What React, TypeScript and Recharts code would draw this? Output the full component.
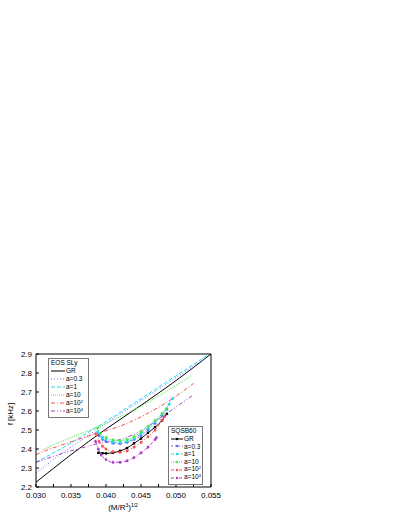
import { LineChart, Line, XAxis, YAxis } from "recharts";

type Pt = [number, number];

// EOS SLy curves (no markers)
const slyGR: Pt[] = [[0.03, 2.225], [0.035, 2.37], [0.04, 2.505], [0.045, 2.63], [0.05, 2.76], [0.055, 2.9]];
const slyA03: Pt[] = [[0.03, 2.275], [0.032, 2.33], [0.034, 2.385], [0.036, 2.435], [0.038, 2.485], [0.04, 2.535], [0.045, 2.655], [0.05, 2.775], [0.0545, 2.885]];
const slyA1: Pt[] = [[0.03, 2.33], [0.032, 2.37], [0.034, 2.41], [0.036, 2.455], [0.038, 2.5], [0.04, 2.545], [0.045, 2.665], [0.05, 2.785], [0.0548, 2.9]];
const slyA10: Pt[] = [[0.031, 2.395], [0.033, 2.43], [0.035, 2.46], [0.037, 2.49], [0.0388, 2.515], [0.042, 2.57], [0.045, 2.625], [0.048, 2.69], [0.0522, 2.785]];
const slyA100: Pt[] = [[0.03, 2.37], [0.032, 2.4], [0.034, 2.425], [0.036, 2.45], [0.0385, 2.48], [0.042, 2.52], [0.045, 2.57], [0.048, 2.63], [0.0525, 2.745]];
const slyA1e4: Pt[] = [[0.03, 2.33], [0.032, 2.355], [0.034, 2.38], [0.036, 2.4], [0.0385, 2.425], [0.042, 2.45], [0.045, 2.495], [0.048, 2.57], [0.0525, 2.685]];

// SQSB60 curves (with markers)
const sqGR: Pt[] = [[0.0389, 2.38], [0.0395, 2.378], [0.04, 2.377], [0.041, 2.38], [0.042, 2.39], [0.043, 2.405], [0.044, 2.43], [0.045, 2.455], [0.046, 2.485], [0.047, 2.515], [0.048, 2.55], [0.0487, 2.585]];
const sqA03: Pt[] = [[0.039, 2.47], [0.0395, 2.45], [0.04, 2.44], [0.041, 2.43], [0.042, 2.428], [0.043, 2.435], [0.044, 2.45], [0.045, 2.47], [0.046, 2.5], [0.047, 2.535], [0.048, 2.575], [0.0487, 2.61]];
const sqA1: Pt[] = [[0.0388, 2.49], [0.0395, 2.46], [0.04, 2.45], [0.041, 2.437], [0.042, 2.435], [0.043, 2.44], [0.044, 2.455], [0.045, 2.48], [0.046, 2.51], [0.047, 2.545], [0.048, 2.585], [0.049, 2.635], [0.0495, 2.665]];
const sqA10: Pt[] = [[0.0388, 2.51], [0.0392, 2.48], [0.04, 2.46], [0.041, 2.448], [0.042, 2.445], [0.043, 2.45], [0.044, 2.465], [0.045, 2.49], [0.046, 2.52], [0.047, 2.55], [0.048, 2.585], [0.0486, 2.61]];
const sqA100: Pt[] = [[0.0385, 2.48], [0.039, 2.44], [0.0395, 2.415], [0.04, 2.4], [0.041, 2.386], [0.042, 2.383], [0.043, 2.39], [0.044, 2.41], [0.045, 2.435], [0.046, 2.465], [0.047, 2.5], [0.048, 2.55], [0.0483, 2.57]];
const sqA1e4: Pt[] = [[0.0385, 2.44], [0.0389, 2.4], [0.0393, 2.37], [0.04, 2.345], [0.041, 2.33], [0.042, 2.33], [0.043, 2.338], [0.044, 2.355], [0.045, 2.38], [0.046, 2.41], [0.047, 2.45], [0.0472, 2.46]];

const xTicks = [0.03, 0.0325, 0.035, 0.0375, 0.04, 0.0425, 0.045, 0.0475, 0.05, 0.0525, 0.055];
const yTicks = [2.2, 2.3, 2.4, 2.5, 2.6, 2.7, 2.8, 2.9];

const toData = (pts: Pt[]) => pts.map(([x, y]) => ({ x, y }));

const C = {
  black: "#000000",
  blue: "#6a6af5",
  cyan: "#22d8f0",
  green: "#4be84b",
  red: "#f55050",
  purple: "#a63cc8",
};

const slySeries = [
  { name: "GR", data: slyGR, color: C.black, dash: undefined as string | undefined },
  { name: "a=0.3", data: slyA03, color: C.blue, dash: "1 2" },
  { name: "a=1", data: slyA1, color: C.cyan, dash: "4 2" },
  { name: "a=10", data: slyA10, color: C.green, dash: "1 1" },
  { name: "a=10", sup: "2", data: slyA100, color: C.red, dash: "4 2 1 2" },
  { name: "a=10", sup: "4", data: slyA1e4, color: C.purple, dash: "4 2 1 2 1 2" },
];

const sqSeries = [
  { name: "GR", data: sqGR, color: C.black, dash: undefined as string | undefined },
  { name: "a=0.3", data: sqA03, color: C.blue, dash: "2 2 1 2" },
  { name: "a=1", data: sqA1, color: C.cyan, dash: "3 2" },
  { name: "a=10", data: sqA10, color: C.green, dash: "1 1" },
  { name: "a=10", sup: "2", data: sqA100, color: C.red, dash: "3 2 1 2" },
  { name: "a=10", sup: "4", data: sqA1e4, color: C.purple, dash: "3 2 1 2" },
];

const font = "'Liberation Sans', Arial, sans-serif";
const tickStyle = { fill: "#000", fontSize: 8, fontFamily: font };

const fmtX = (v: number) => (Math.abs(v * 200 - Math.round(v * 200)) < 1e-6 ? v.toFixed(3) : "");

const squareDot = (color: string) => (p: any) => (
  <rect key={`d${p.index}`} x={p.cx - 1.2} y={p.cy - 1.2} width={2.4} height={2.4} fill={color} />
);

const LegendBox = ({ title, items, left, top, width, rowH, sampleW, markers }: any) => (
  <div
    style={{
      position: "absolute",
      left,
      top,
      width,
      border: "1px solid #777",
      background: "#fff",
      fontFamily: font,
      fontSize: 6.5,
      lineHeight: `${rowH}px`,
      padding: "0 0 2px 2px",
      boxSizing: "border-box",
      whiteSpace: "nowrap",
      overflow: "hidden",
    }}
  >
    <div>{title}</div>
    {items.map((s: any, i: number) => (
      <div key={i} style={{ display: "flex", alignItems: "center", height: rowH }}>
        <svg width={sampleW} height={6} style={{ marginRight: 1, flexShrink: 0 }}>
          <line x1={0} y1={3} x2={sampleW} y2={3} stroke={s.color} strokeWidth={1} strokeDasharray={s.dash} />
          {markers && <circle cx={sampleW / 2} cy={3} r={1.2} fill={s.color} />}
        </svg>
        <span>
          {s.name}
          {s.sup && <span style={{ fontSize: 4, position: "relative", top: -2 }}>{s.sup}</span>}
        </span>
      </div>
    ))}
  </div>
);

export default function App() {
  return (
    <div style={{ position: "absolute", left: 0, top: 0, width: 399, height: 516, background: "#fff" }}>
      <LineChart width={399} height={516} margin={{ top: 353, right: 187, bottom: 9, left: 11 }}>
        <XAxis
          xAxisId="b"
          dataKey="x"
          type="number"
          domain={[0.03, 0.055]}
          ticks={xTicks}
          tickFormatter={fmtX}
          tickSize={-3}
          tickMargin={8}
          height={20}
          stroke="#000"
          tick={tickStyle}
          interval={0}
        />
        <XAxis
          xAxisId="t"
          orientation="top"
          dataKey="x"
          type="number"
          domain={[0.03, 0.055]}
          ticks={xTicks}
          tickFormatter={() => ""}
          tickSize={-3}
          height={1}
          stroke="#000"
          interval={0}
        />
        <YAxis
          yAxisId="l"
          dataKey="y"
          type="number"
          domain={[2.2, 2.9]}
          ticks={yTicks}
          tickFormatter={(v: number) => v.toFixed(1)}
          tickSize={-3}
          tickMargin={7}
          width={25}
          stroke="#000"
          tick={tickStyle}
          interval={0}
        />
        <YAxis
          yAxisId="r"
          orientation="right"
          dataKey="y"
          type="number"
          domain={[2.2, 2.9]}
          ticks={yTicks}
          tickFormatter={() => ""}
          tickSize={-3}
          width={1}
          stroke="#000"
          interval={0}
        />
        {slySeries.map((s, i) => (
          <Line
            key={`sly${i}`}
            xAxisId="b"
            yAxisId="l"
            data={toData(s.data)}
            dataKey="y"
            type="monotone"
            stroke={s.color}
            strokeWidth={1}
            strokeDasharray={s.dash}
            dot={false}
            activeDot={false}
            isAnimationActive={false}
          />
        ))}
        {sqSeries.map((s, i) => (
          <Line
            key={`sq${i}`}
            xAxisId="b"
            yAxisId="l"
            data={toData(s.data)}
            dataKey="y"
            type="monotone"
            stroke={s.color}
            strokeWidth={1}
            strokeDasharray={s.dash}
            dot={i === 0 ? squareDot(s.color) : { r: 1.3, fill: s.color, stroke: s.color, strokeWidth: 0.5 }}
            activeDot={false}
            isAnimationActive={false}
          />
        ))}
      </LineChart>

      <LegendBox title="EOS SLy" items={slySeries} left={48} top={358} width={41} rowH={8} sampleW={14} markers={false} />
      <LegendBox title="SQSB60" items={sqSeries} left={168} top={426} width={35} rowH={7.8} sampleW={12} markers={true} />

      <div
        style={{
          position: "absolute",
          left: 73,
          top: 503,
          width: 100,
          textAlign: "center",
          fontFamily: font,
          fontSize: 8,
          lineHeight: "10px",
        }}
      >
        (M/R<span style={{ fontSize: 5, position: "relative", top: -3 }}>3</span>)
        <span style={{ fontSize: 5, position: "relative", top: -3 }}>1/2</span>
      </div>
      <div
        style={{
          position: "absolute",
          left: -14,
          top: 409,
          width: 50,
          textAlign: "center",
          fontFamily: font,
          fontSize: 8,
          lineHeight: "10px",
          transform: "rotate(-90deg)",
        }}
      >
        f [kHz]
      </div>
    </div>
  );
}
